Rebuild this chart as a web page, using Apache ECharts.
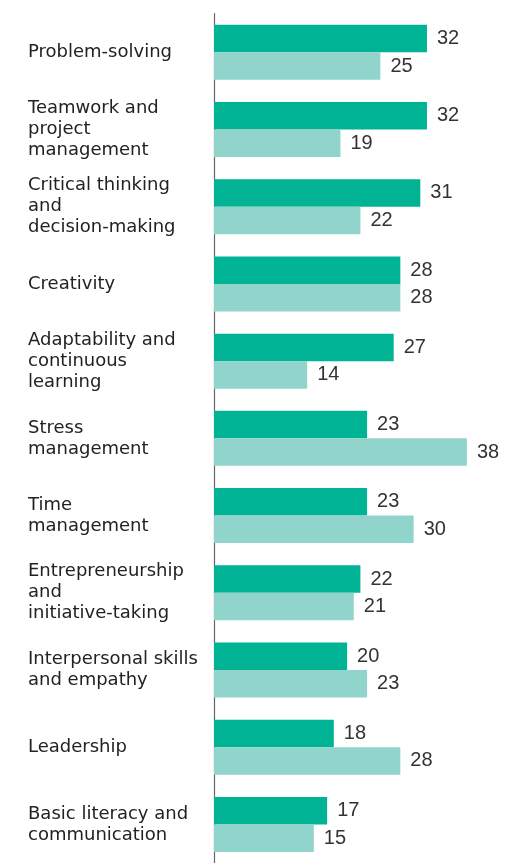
<!DOCTYPE html>
<html>
<head>
<meta charset="utf-8">
<script src="https://cdn.jsdelivr.net/npm/echarts@6/dist/echarts.min.js"></script>
<style>
  html, body { margin: 0; padding: 0; background: #fff; }
  #chart { width: 511px; height: 863px; }
</style>
</head>
<body>
<div id="chart"></div>
<script>
// Skill categories, top to bottom
const categories = [
  'Problem-solving',
  'Teamwork and\nproject\nmanagement',
  'Critical thinking\nand\ndecision-making',
  'Creativity',
  'Adaptability and\ncontinuous\nlearning',
  'Stress\nmanagement',
  'Time\nmanagement',
  'Entrepreneurship\nand\ninitiative-taking',
  'Interpersonal skills\nand empathy',
  'Leadership',
  'Basic literacy and\ncommunication'
];
// First (dark) series values
const seriesA = [32, 32, 31, 28, 27, 23, 23, 22, 20, 18, 17];
// Second (light) series values
const seriesB = [25, 19, 22, 28, 14, 38, 30, 21, 23, 28, 15];

const chart = echarts.init(document.getElementById('chart'));
const labelStyle = {
  show: true,
  position: 'right',
  distance: 10,
  color: '#333333',
  fontFamily: 'Liberation Sans, Arial, sans-serif',
  fontSize: 20
};
chart.setOption({
  animation: false,
  grid: { left: 214, top: 13.7, width: 266.2, height: 853.6, containLabel: false },
  xAxis: {
    type: 'value', min: 0, max: 40, show: false
  },
  yAxis: {
    type: 'category',
    inverse: true,
    data: categories,
    axisLine: { show: true, lineStyle: { color: '#666666', width: 1.2 } },
    axisTick: { show: false },
    axisLabel: {
      align: 'left',
      margin: 186,
      color: '#222222',
      fontFamily: 'DejaVu Sans, sans-serif',
      fontSize: 18,
      lineHeight: 21
    }
  },
  series: [
    {
      type: 'bar', data: seriesA, barWidth: 27.5, barGap: '0%',
      itemStyle: { color: '#00b394' }, label: labelStyle
    },
    {
      type: 'bar', data: seriesB, barWidth: 27.5, barGap: '0%',
      itemStyle: { color: '#91d4cb' }, label: labelStyle
    }
  ]
});
</script>
</body>
</html>
